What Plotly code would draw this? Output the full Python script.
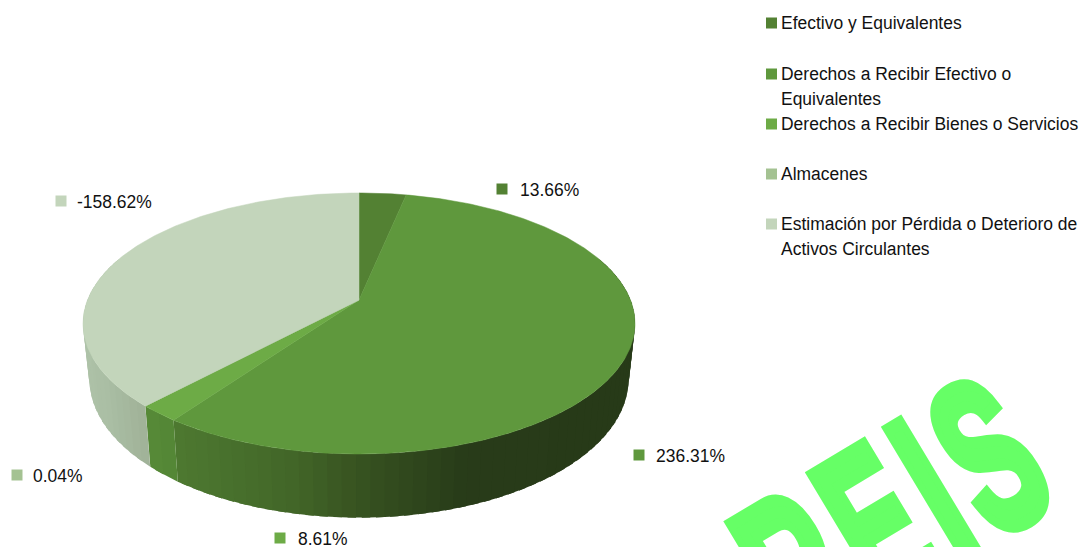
import math
import plotly.graph_objects as go

# ---- data ----
categories = ["Efectivo y Equivalentes",
              "Derechos a Recibir Efectivo o<br>Equivalentes",
              "Derechos a Recibir Bienes o Servicios",
              "Almacenes",
              "Estimación por Pérdida o Deterioro de<br>Activos Circulantes"]
values = [13.66, 236.31, 8.61, 0.04, -158.62]
value_labels = ["13.66%", "236.31%", "8.61%", "0.04%", "-158.62%"]
watermark = "REIS"

# ---- styles ----
top_colors = ["#538133", "#5f983d", "#6dab46", "#a4c292", "#c3d5bb"]
# side shading: (x position, rgb)
side_stops = [
    [(0, (60, 90, 38)), (1080, (60, 90, 38))],
    [(175, (78, 122, 49)), (300, (66, 102, 40)), (360, (56, 84, 33)), (470, (40, 59, 25)), (640, (39, 58, 24))],
    [(145, (88, 140, 56)), (180, (84, 134, 54))],
    [(80, (150, 170, 140)), (160, (150, 170, 140))],
    [(85, (174, 194, 168)), (110, (170, 190, 164)), (150, (160, 178, 152))],
]
legend_y = [23, 74, 124, 174, 224]
legend_key_x, legend_text_x = 771.5, 781
label_keys = [(502, 189), (639, 455), (280, 538), (17, 475), (61, 201)]
label_text_x = [519, 655, 297, 32, 76]
FONT = "Liberation Sans"
FS = 19

# ---- projection of the 3-D pie ----
CX, CY = 359, 300
B, A, K = 271.5, 126.3, 0.18
SX, SY, DZ = 0.977, 1.0625, 54


def rim(theta):
    s, c = math.sin(theta), math.cos(theta)
    d = 1 + K * c
    return CX + B * s / d, CY - A * c / d


def base(theta):
    x, y = rim(theta)
    return CX + (x - CX) * SX, CY + DZ + (y - CY) * SY


def shade(stops, x):
    if x <= stops[0][0]:
        return stops[0][1]
    for (x0, c0), (x1, c1) in zip(stops, stops[1:]):
        if x <= x1:
            t = (x - x0) / (x1 - x0)
            return tuple(c0[i] + (c1[i] - c0[i]) * t for i in range(3))
    return stops[-1][1]


total = sum(abs(v) for v in values)
edges = [0.0]
for v in values:
    edges.append(edges[-1] + abs(v) / total * 2 * math.pi)

fig = go.Figure()
VIS0, VIS1 = math.radians(70), math.radians(290)
# side wall: bands overlap the next one so no seam shows
for i in range(len(values)):
    a0, a1 = max(edges[i], VIS0), min(edges[i + 1], VIS1)
    if a1 <= a0:
        continue
    n = max(1, int((a1 - a0) / math.radians(2.5)))
    step = (a1 - a0) / n
    for j in range(n):
        t0 = a0 + step * j
        t1 = min(a1, t0 + step * 1.6)
        p = [rim(t0), rim(t1), base(t1), base(t0), rim(t0)]
        xm = (rim(t0)[0] + base(t0)[0]) / 2
        r, g, b = shade(side_stops[i], xm)
        col = f"rgb({r:.0f},{g:.0f},{b:.0f})"
        fig.add_trace(go.Scatter(x=[q[0] for q in p], y=[q[1] for q in p], mode="lines",
                                 fill="toself", fillcolor=col, line=dict(width=0),
                                 hoverinfo="skip", showlegend=False))
# top face
for i, v in enumerate(values):
    n = max(2, int((edges[i + 1] - edges[i]) / math.radians(0.7)))
    pts = [rim(edges[i] + (edges[i + 1] - edges[i]) * j / n) for j in range(n + 1)]
    xs = [CX] + [q[0] for q in pts] + [CX]
    ys = [CY] + [q[1] for q in pts] + [CY]
    fig.add_trace(go.Scatter(x=xs, y=ys, mode="lines", fill="toself", fillcolor=top_colors[i],
                             line=dict(color=top_colors[i], width=0.5), name=categories[i].replace("<br>", " "),
                             showlegend=False, hoverinfo="name"))
# keys
fig.add_trace(go.Scatter(x=[legend_key_x] * 5 + [p[0] for p in label_keys],
                         y=legend_y + [p[1] for p in label_keys], mode="markers",
                         marker=dict(symbol="square", size=11, color=top_colors + top_colors, line=dict(width=0)),
                         hoverinfo="skip", showlegend=False))

ann = []
for i, c in enumerate(categories):
    ann.append(dict(x=legend_text_x, y=legend_y[i] - 11, text=c, xref="x", yref="y", xanchor="left", yanchor="top",
                    align="left", showarrow=False, borderpad=0, borderwidth=0))
for i, t in enumerate(value_labels):
    ann.append(dict(x=label_text_x[i], y=label_keys[i][1], text=t, xref="x", yref="y", xanchor="left",
                    yanchor="middle", showarrow=False, borderpad=0))
ann.append(dict(x=896, y=511, text=f"<b>{watermark}</b>", xref="x", yref="y", xanchor="center", yanchor="middle",
                textangle=-31, showarrow=False, font=dict(size=216, color="#66FF66", family=FONT)))

fig.update_layout(width=1080, height=547, margin=dict(l=0, r=0, t=0, b=0), paper_bgcolor="white", plot_bgcolor="white",
                  showlegend=False, font=dict(family=FONT, size=FS, color="#111111"), annotations=ann,
                  xaxis=dict(range=[0, 1080], visible=False, fixedrange=True),
                  yaxis=dict(range=[547, 0], visible=False, fixedrange=True))

post = """
document.body.style.margin='0';document.body.style.overflow='hidden';
document.querySelectorAll('.annotation-text').forEach(function(t){
  var b=t.getBBox();
  if(t.textContent==='REIS'){
    var cx=b.x+b.width/2;
    t.style.letterSpacing='20px';
    t.setAttribute('transform','translate('+cx+',0) scale(0.54,1) translate('+(-cx)+',0)');
    t.style.stroke='#66FF66';t.style.strokeWidth='13px';t.style.strokeLinejoin='miter';
  } else {
    var x=b.x;
    t.setAttribute('transform','translate('+x+',0) scale(0.92,1) translate('+(-x)+',0)');
  }
});
"""
fig.write_html("out.html", post_script=post, config=dict(displayModeBar=False, staticPlot=True))
